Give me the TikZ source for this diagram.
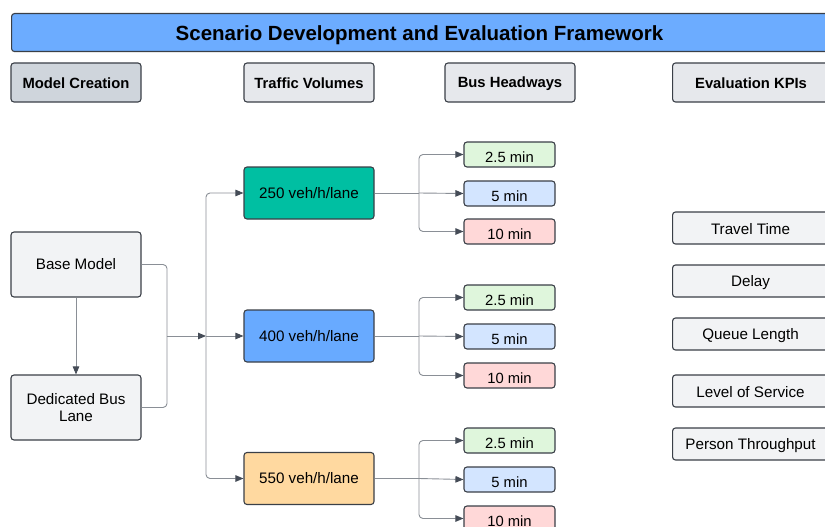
\documentclass[tikz,border=0pt]{standalone}
\usepackage{fontspec}
\setmainfont{Liberation Sans}
\usetikzlibrary{arrows.meta}
\definecolor{bord}{HTML}{3A3F47}
\definecolor{titleblue}{HTML}{6CACFF}
\definecolor{hdrdark}{HTML}{CFD5DC}
\definecolor{hdrlight}{HTML}{E6E8EC}
\definecolor{boxgray}{HTML}{F2F3F5}
\definecolor{vteal}{HTML}{00BFA2}
\definecolor{vblue}{HTML}{68AAFF}
\definecolor{vorange}{HTML}{FFD9A0}
\definecolor{hgreen}{HTML}{DFF6DC}
\definecolor{hblue}{HTML}{D3E5FF}
\definecolor{hpink}{HTML}{FFD8D8}
\definecolor{linec}{HTML}{8A8F96}
\definecolor{tipc}{HTML}{454C57}
\newcommand{\lowtxt}[2][2.5pt]{\raisebox{-#1}[\height][\depth]{#2}}
\tikzset{
  box/.style={draw=bord, line width=1.1pt, rounded corners=3pt, inner sep=0pt, align=center,
    font=\fontsize{15.2}{17.5}\selectfont, text=black},
  hdr/.style={box, minimum width=130, minimum height=39, font=\bfseries\fontsize{14.8}{16}\selectfont},
  modelbox/.style={box, fill=boxgray, minimum width=130, minimum height=65},
  volbox/.style={box, minimum width=130, minimum height=52},
  hwbox/.style={box, minimum width=91, minimum height=25, font=\fontsize{14.8}{16}\selectfont},
  kpibox/.style={box, fill=boxgray, minimum width=160, minimum height=32},
  link/.style={draw=linec, line width=0.9pt, rounded corners=4pt},
  arr/.style={link, -{Triangle[length=8pt,width=6.5pt,color=tipc]}}
}
\begin{document}
\begin{tikzpicture}[x=1pt,y=-1pt]
\useasboundingbox (0,0) rectangle (825,527);
\clip (0,0) rectangle (825,527);
% title
\node[box, fill=titleblue, minimum width=830, minimum height=38, anchor=north west] (title) at (11,13) {};
\node[font=\bfseries\fontsize{20.5}{22}\selectfont] (titletext) at (419.5,35) {Scenario Development and Evaluation Framework};
% headers
\node[hdr, fill=hdrdark] (h1) at (76,82.5) {\lowtxt[1pt]{Model Creation}};
\node[hdr, fill=hdrlight] (h2) at (309,82.5) {\lowtxt[1pt]{Traffic Volumes}};
\node[hdr, fill=hdrlight] (h3) at (510,82.5) {\lowtxt[1pt]{Bus Headways}};
\node[hdr, fill=hdrlight, minimum width=160, anchor=west] (h4) at (672,82.5) {\hspace*{-3pt}\lowtxt[1pt]{Evaluation KPIs}};
% models
\node[modelbox] (base) at (76,264.5) {Base Model};
\node[modelbox] (ded) at (76,407.5) {Dedicated Bus\\Lane};
% volumes
\node[volbox, fill=vteal] (v1) at (309,193) {250 veh/h/lane};
\node[volbox, fill=vblue] (v2) at (309,336) {400 veh/h/lane};
\node[volbox, fill=vorange] (v3) at (309,478.5) {550 veh/h/lane};
% headways
\node[hwbox, fill=hgreen] (a1) at (509.5,154.5) {\lowtxt[3pt]{2.5 min}};
\node[hwbox, fill=hblue] (a2) at (509.5,193.5) {\lowtxt[3pt]{5 min}};
\node[hwbox, fill=hpink] (a3) at (509.5,231.5) {\lowtxt[3pt]{10 min}};
\node[hwbox, fill=hgreen] (b1) at (509.5,297.5) {\lowtxt[3pt]{2.5 min}};
\node[hwbox, fill=hblue] (b2) at (509.5,336.5) {\lowtxt[3pt]{5 min}};
\node[hwbox, fill=hpink] (b3) at (509.5,375.5) {\lowtxt[3pt]{10 min}};
\node[hwbox, fill=hgreen] (c1) at (509.5,440.5) {\lowtxt[3pt]{2.5 min}};
\node[hwbox, fill=hblue] (c2) at (509.5,479.5) {\lowtxt[3pt]{5 min}};
\node[hwbox, fill=hpink] (c3) at (509.5,518.5) {\lowtxt[3pt]{10 min}};
% KPIs
\node[kpibox, anchor=west] (k1) at (672,228) {\hspace*{-4pt}\lowtxt[1.5pt]{Travel Time}};
\node[kpibox, anchor=west] (k2) at (672,281) {\hspace*{-4pt}\lowtxt[1.5pt]{Delay}};
\node[kpibox, anchor=west] (k3) at (672,334) {\hspace*{-4pt}\lowtxt[1.5pt]{Queue Length}};
\node[kpibox, anchor=west] (k4) at (672,391) {\hspace*{-4pt}\lowtxt[1.5pt]{Level of Service}};
\node[kpibox, anchor=west] (k5) at (672,444) {\hspace*{-4pt}\lowtxt[1.5pt]{Person Throughput}};
% connectors: models
\draw[arr] (base.south) -- (ded.north);
\coordinate (j1) at (167,336);
\coordinate (j2) at (206,336);
\draw[link] (base.east) -| (j1);
\draw[link] (ded.east) -| (j1);
\draw[arr] (j1) -- (j2);
\draw[arr] (j2) |- (v1.west);
\draw[arr] (j2) -- (v2.west);
\draw[arr] (j2) |- (v3.west);
% connectors: headways
\coordinate (s1) at (419,193);
\coordinate (s2) at (419,336);
\coordinate (s3) at (419,478.5);
\draw[link] (v1.east) -- (s1);
\draw[arr] (s1) |- (a1.west);
\draw[arr] (s1) -- (a2.west);
\draw[arr] (s1) |- (a3.west);
\draw[link] (v2.east) -- (s2);
\draw[arr] (s2) |- (b1.west);
\draw[arr] (s2) -- (b2.west);
\draw[arr] (s2) |- (b3.west);
\draw[link] (v3.east) -- (s3);
\draw[arr] (s3) |- (c1.west);
\draw[arr] (s3) -- (c2.west);
\draw[arr] (s3) |- (c3.west);
\end{tikzpicture}
\end{document}
